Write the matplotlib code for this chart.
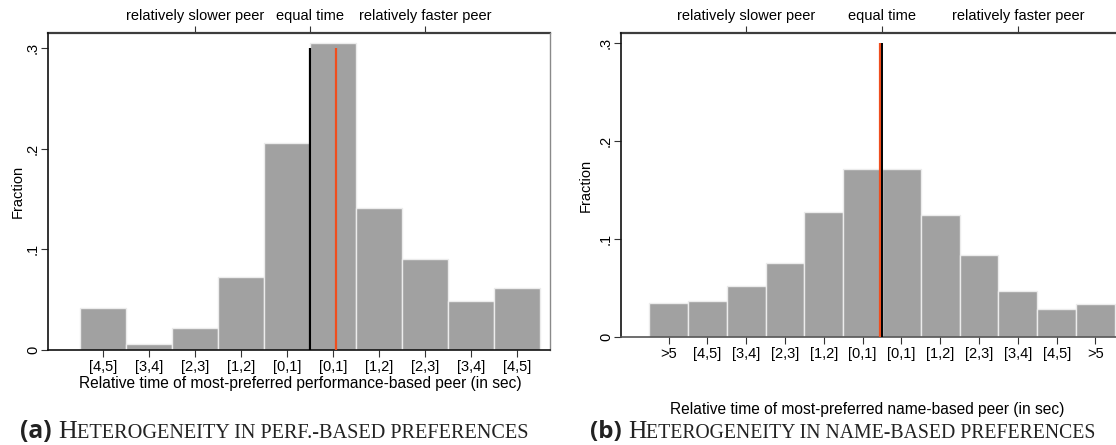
import matplotlib
matplotlib.use('Agg')
import matplotlib.pyplot as plt

# ---------------- data ----------------
perf_labels = ['[4,5]', '[3,4]', '[2,3]', '[1,2]', '[0,1]',
               '[0,1]', '[1,2]', '[2,3]', '[3,4]', '[4,5]']
perf_centers = [-4.5, -3.5, -2.5, -1.5, -0.5, 0.5, 1.5, 2.5, 3.5, 4.5]
perf_fraction = [0.042, 0.006, 0.022, 0.0725, 0.2055,
                 0.305, 0.141, 0.0905, 0.0487, 0.0616]
perf_mean = 0.57
perf_top_ticks = [-2.5, 0, 2.5]

name_labels = ['>5', '[4,5]', '[3,4]', '[2,3]', '[1,2]', '[0,1]',
               '[0,1]', '[1,2]', '[2,3]', '[3,4]', '[4,5]', '>5']
name_centers = [-5.5, -4.5, -3.5, -2.5, -1.5, -0.5,
                0.5, 1.5, 2.5, 3.5, 4.5, 5.5]
name_fraction = [0.0347, 0.0367, 0.052, 0.0755, 0.1276, 0.1714,
                 0.1714, 0.1245, 0.0837, 0.047, 0.0286, 0.0337]
name_mean = -0.04
name_top_ticks = [-3.5, 0, 3.5]

top_labels = ['relatively slower peer', 'equal time', 'relatively faster peer']
y_ticks = [0, 0.1, 0.2, 0.3]
y_ticklabels = ['0', '.1', '.2', '.3']
line_top = 0.3

xlabel_a = 'Relative time of most-preferred performance-based peer (in sec)'
xlabel_b = 'Relative time of most-preferred name-based peer (in sec)'

# ---------------- style ----------------
plt.rcParams['font.family'] = ['Liberation Sans', 'DejaVu Sans']
FS = 10.5
FS_LAB = 11.2
BAR = '#a1a1a1'
ORANGE = '#f04e1e'
W, H = 1116, 445

fig = plt.figure(figsize=(W / 100, H / 100), dpi=100)


def px_axes(x0, y0top, x1, y1bot):
    return fig.add_axes([x0 / W, 1 - y1bot / H, (x1 - x0) / W, (y1bot - y0top) / H])


def style(ax, centers, fracs, labels, top_ticks, xlim, ylim, xlabel,
          xlabel_pos, right_spine):
    ax.bar(centers, fracs, width=1.0, color=BAR, edgecolor='#ececec',
           linewidth=1.0, zorder=2)
    ax.set_xlim(*xlim)
    ax.set_ylim(*ylim)
    ax.set_xticks(centers)
    ax.set_xticklabels(labels, fontsize=FS)
    ax.set_yticks(y_ticks)
    ax.set_yticklabels(y_ticklabels, fontsize=FS, rotation=90, va='center')
    ax.tick_params(axis='x', direction='out', length=5, width=0.8, pad=2,
                   color='#333333')
    ax.tick_params(axis='y', direction='out', length=5, width=0.8, pad=0.8,
                   color='#333333')
    ax.set_ylabel('Fraction', fontsize=FS)
    ax.set_xlabel(xlabel, fontsize=FS_LAB)
    ax.xaxis.set_label_coords(*xlabel_pos)
    for s in ['left', 'bottom']:
        ax.spines[s].set_color('#111111')
        ax.spines[s].set_linewidth(1.2)
    ax.spines['top'].set_visible(False)
    if right_spine:
        ax.spines['right'].set_color('#8a8a8a')
        ax.spines['right'].set_linewidth(1.0)
    else:
        ax.spines['right'].set_visible(False)
    sec = ax.secondary_xaxis('top')
    sec.set_xticks(top_ticks)
    sec.set_xticklabels(top_labels, fontsize=FS)
    sec.tick_params(direction='out', length=5, width=0.8, pad=2, color='#333333')
    sec.spines['top'].set_color('#3c3c3c')
    sec.spines['top'].set_linewidth(1.6)
    return ax


axa = px_axes(48, 33, 550, 350)
style(axa, perf_centers, perf_fraction, perf_labels, perf_top_ticks,
      (-5.696, 5.217), (0, 0.3148), xlabel_a, (0.502, -0.082), True)
axa.yaxis.set_label_coords(-0.046, 0.5)
axa.vlines(0, 0, line_top, color='black', linewidth=1.6, zorder=4)
axa.vlines(perf_mean, 0, line_top, color=ORANGE, linewidth=1.6, zorder=4)

axb = px_axes(621, 33, 1116, 337)
style(axb, name_centers, name_fraction, name_labels, name_top_ticks,
      (-6.727, 6.03), (0, 0.310), xlabel_b, (0.497, -0.215), False)
axb.yaxis.set_label_coords(-0.057, 0.5)
axb.spines['bottom'].set_color('#555555')
axb.vlines(name_mean, 0, line_top, color=ORANGE, linewidth=1.6, zorder=4)
axb.vlines(0, 0, line_top, color='black', linewidth=1.4, zorder=5)

# ---------------- captions (simulated small caps) ----------------
captions = [
    ('(a)', 'H', 'ETEROGENEITY IN PERF.-BASED PREFERENCES', 20, 530),
    ('(b)', 'H', 'ETEROGENEITY IN NAME-BASED PREFERENCES', 590, 1098),
]
renderer = fig.canvas.get_renderer()
cap_y = 1 - 438 / H


def draw_caption(tag, first, rest, x0, size, draw=True):
    x = x0
    parts = [(tag + ' ', dict(family=['Open Sans', 'DejaVu Sans'], weight='bold', size=size * 0.95)),
             (first, dict(family=['Liberation Serif', 'DejaVu Serif'], size=size)),
             (rest, dict(family=['Liberation Serif', 'DejaVu Serif'], size=size * 0.78))]
    texts = []
    for s, kw in parts:
        t = fig.text(x / W, cap_y, s, va='baseline', ha='left',
                     color='#222222', **kw)
        bb = t.get_window_extent(renderer)
        x = x + bb.width
        texts.append(t)
    if not draw:
        for t in texts:
            t.remove()
    return x


for tag, first, rest, x0, x1 in captions:
    end = draw_caption(tag, first, rest, x0, 12, draw=False)
    size = 12 * (x1 - x0) / (end - x0)
    draw_caption(tag, first, rest, x0, size, draw=True)

fig.savefig('out.png', dpi=100)
